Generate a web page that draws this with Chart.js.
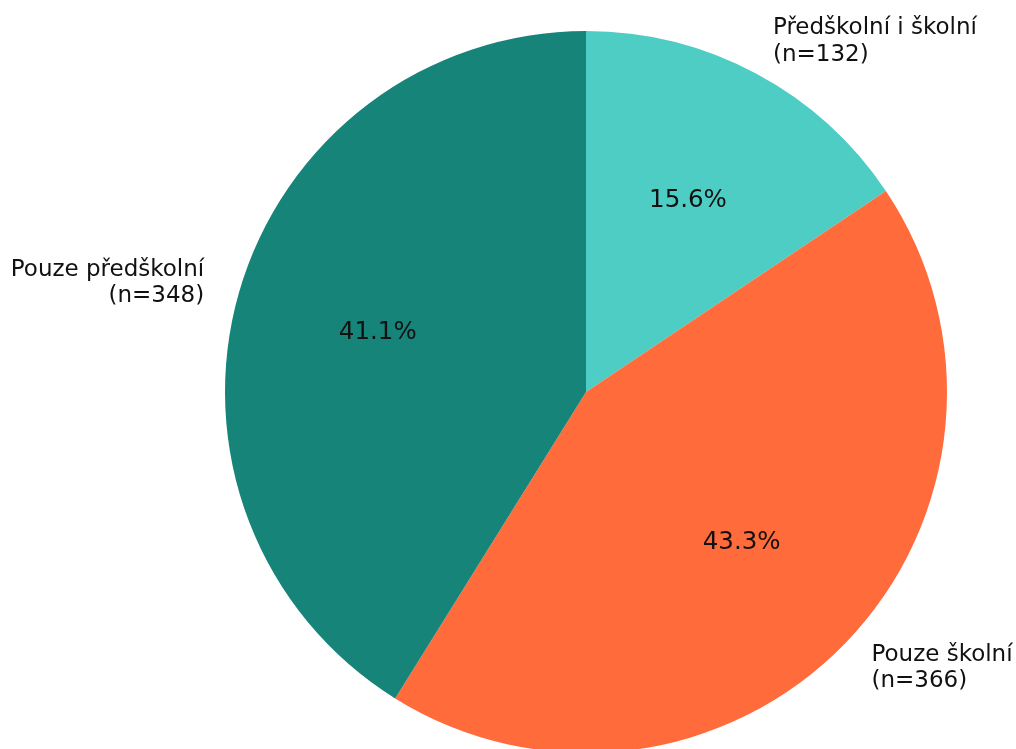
<!DOCTYPE html>
<html lang="cs">
<head>
    <meta charset="UTF-8">
    <title>Předškolní a školní</title>
    <script src="https://cdn.jsdelivr.net/npm/chart.js@4.4.0/dist/chart.umd.min.js"></script>
    <style>
        * { margin: 0; padding: 0; box-sizing: border-box; }
        html, body { width: 1016px; height: 749px; overflow: hidden; background: #fff; }
        .chart-box { position: relative; width: 1016px; height: 760px; }
    </style>
</head>
<body>
    <div class="chart-box">
        <canvas id="pieChart"></canvas>
    </div>

    <script>
        // data
        const categories = ['Předškolní i školní', 'Pouze školní', 'Pouze předškolní'];
        const counts = [132, 366, 348];
        const colors = ['#4ECDC4', '#FF6B3B', '#17847A'];

        const total = counts.reduce((a, b) => a + b, 0);

        // matplotlib-like labels: name outside at 1.1r, percent inside at 0.6r
        const pieLabels = {
            id: 'pieLabels',
            afterDatasetsDraw(chart) {
                const ctx = chart.ctx;
                const arcs = chart.getDatasetMeta(0).data;
                ctx.save();
                ctx.fillStyle = '#111';
                arcs.forEach((arc, i) => {
                    const mid = (arc.startAngle + arc.endAngle) / 2;
                    const r = arc.outerRadius;
                    const cos = Math.cos(mid), sin = Math.sin(mid);

                    // percent
                    ctx.font = '24.5px "DejaVu Sans"';
                    ctx.textAlign = 'center';
                    ctx.textBaseline = 'middle';
                    const pct = (counts[i] / total * 100).toFixed(1) + '%';
                    ctx.fillText(pct, arc.x + cos * r * 0.6, arc.y + sin * r * 0.6);

                    // outside label
                    ctx.font = '23px "DejaVu Sans"';
                    const lx = arc.x + cos * r * 1.1;
                    const ly = arc.y + sin * r * 1.1;
                    ctx.textAlign = cos >= 0 ? 'left' : 'right';
                    const lines = [categories[i], '(n=' + counts[i] + ')'];
                    const lh = 26.5;
                    lines.forEach((t, k) => {
                        ctx.fillText(t, lx, ly + (k - (lines.length - 1) / 2) * lh);
                    });
                });
                ctx.restore();
            }
        };

        new Chart(document.getElementById('pieChart'), {
            type: 'pie',
            data: {
                labels: categories,
                datasets: [{
                    data: counts,
                    backgroundColor: colors,
                    borderWidth: 0,
                    hoverOffset: 0
                }]
            },
            options: {
                responsive: true,
                maintainAspectRatio: false,
                animation: false,
                layout: {
                    padding: { left: 225, right: 69, top: 31, bottom: 7 }
                },
                plugins: {
                    legend: { display: false },
                    tooltip: { enabled: false }
                }
            },
            plugins: [pieLabels]
        });
    </script>
</body>
</html>
